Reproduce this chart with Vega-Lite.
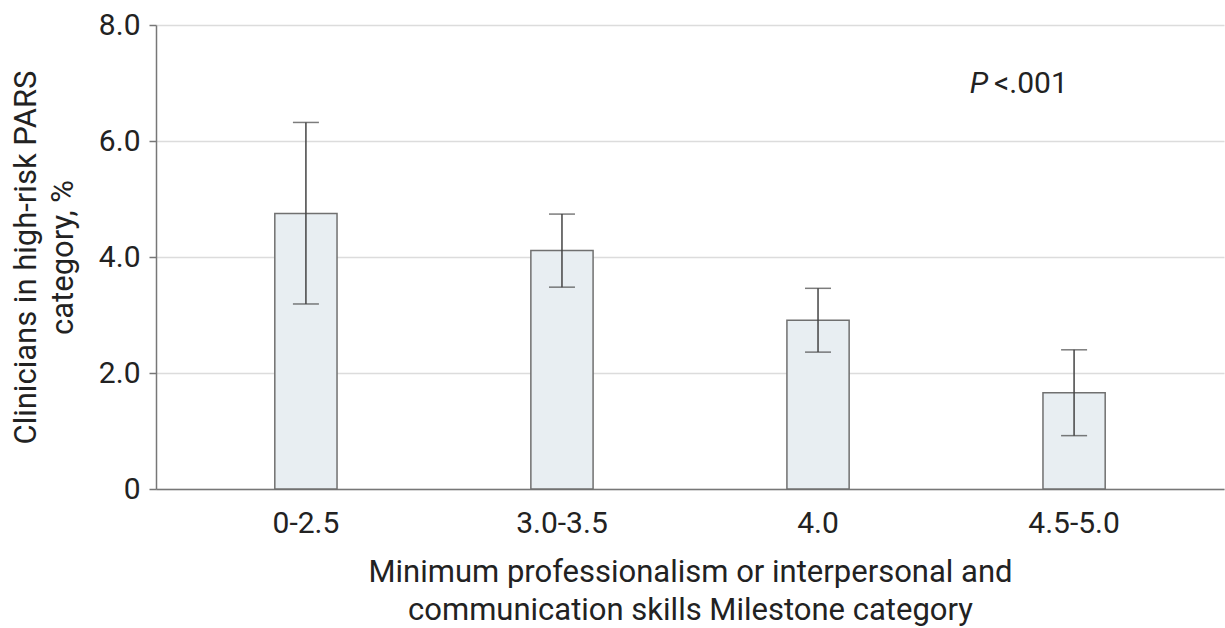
{
  "$schema": "https://vega.github.io/schema/vega-lite/v6.json",
  "width": 1068,
  "height": 464,
  "autosize": {"type": "none"},
  "padding": {"left": 156, "top": 25, "right": 1, "bottom": 139},
  "background": "white",
  "config": {"view": {"stroke": null}, "font": "Roboto"},
  "datasets": {
    "bars": [
      {"cat": "0-2.5", "pct": 4.75, "lo": 3.19, "hi": 6.32},
      {"cat": "3.0-3.5", "pct": 4.11, "lo": 3.48, "hi": 4.74},
      {"cat": "4.0", "pct": 2.91, "lo": 2.36, "hi": 3.46},
      {"cat": "4.5-5.0", "pct": 1.66, "lo": 0.92, "hi": 2.40}
    ],
    "note": [{"cat": "4.5-5.0", "y": 6.83, "p": "P", "rest": "<.001"}]
  },
  "layer": [
    {
      "data": {"name": "bars"},
      "mark": {"type": "bar", "fill": "#e8eef2", "stroke": "#707070", "strokeWidth": 1.5},
      "encoding": {
        "x": {
          "field": "cat", "type": "nominal", "sort": null,
          "scale": {"paddingInner": 0.757, "paddingOuter": 0.464},
          "axis": {
            "labelAngle": 0, "ticks": false, "grid": false,
            "domain": true, "domainColor": "#777777", "domainWidth": 1.5,
            "labelFontSize": 30, "labelColor": "#222222", "labelPadding": 19,
            "title": ["Minimum professionalism or interpersonal and", "communication skills Milestone category"],
            "titleFontSize": 31, "titleFontWeight": "normal", "titleColor": "#222222",
            "titlePadding": 19, "titleLineHeight": 38
          }
        },
        "y": {
          "field": "pct", "type": "quantitative",
          "scale": {"domain": [0, 8], "nice": false},
          "axis": {
            "values": [0, 2, 4, 6, 8],
            "labelExpr": "datum.value == 0 ? '0' : format(datum.value, '.1f')",
            "grid": true, "gridColor": "#dcdcdc", "gridWidth": 1.5,
            "domain": true, "domainColor": "#777777", "domainWidth": 1.5,
            "ticks": true, "tickColor": "#777777", "tickSize": 7, "tickWidth": 1.5,
            "labelFontSize": 30, "labelColor": "#222222", "labelPadding": 9,
            "title": ["Clinicians in high-risk PARS", "category, %"],
            "titleFontSize": 31, "titleFontWeight": "normal", "titleColor": "#222222",
            "titlePadding": 19, "titleLineHeight": 37
          }
        }
      }
    },
    {
      "data": {"name": "bars"},
      "mark": {"type": "rule", "color": "#444444", "strokeWidth": 1.5},
      "encoding": {
        "x": {"field": "cat", "type": "nominal", "sort": null},
        "y": {"field": "lo", "type": "quantitative"},
        "y2": {"field": "hi"}
      }
    },
    {
      "data": {"name": "bars"},
      "mark": {"type": "tick", "color": "#444444", "size": 26, "thickness": 1.5, "orient": "horizontal"},
      "encoding": {
        "x": {"field": "cat", "type": "nominal", "sort": null},
        "y": {"field": "lo", "type": "quantitative"}
      }
    },
    {
      "data": {"name": "bars"},
      "mark": {"type": "tick", "color": "#444444", "size": 26, "thickness": 1.5, "orient": "horizontal"},
      "encoding": {
        "x": {"field": "cat", "type": "nominal", "sort": null},
        "y": {"field": "hi", "type": "quantitative"}
      }
    },
    {
      "data": {"name": "note"},
      "mark": {"type": "text", "fontSize": 30, "fontStyle": "italic", "align": "right", "baseline": "alphabetic", "dx": -86, "color": "#222222"},
      "encoding": {
        "x": {"field": "cat", "type": "nominal", "sort": null},
        "y": {"field": "y", "type": "quantitative"},
        "text": {"field": "p"}
      }
    },
    {
      "data": {"name": "note"},
      "mark": {"type": "text", "fontSize": 30, "align": "left", "baseline": "alphabetic", "dx": -80, "color": "#222222"},
      "encoding": {
        "x": {"field": "cat", "type": "nominal", "sort": null},
        "y": {"field": "y", "type": "quantitative"},
        "text": {"field": "rest"}
      }
    }
  ]
}
